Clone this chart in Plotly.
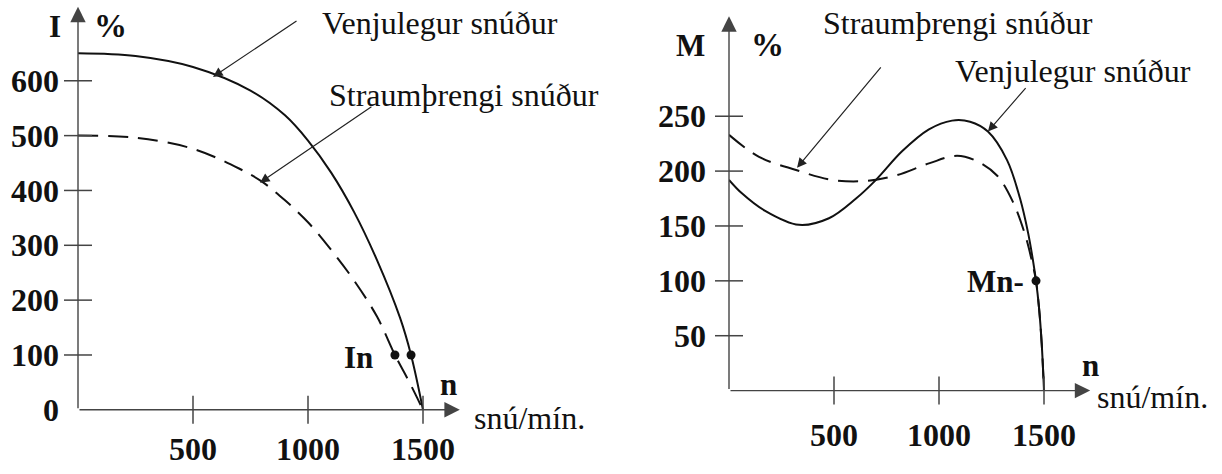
import plotly.graph_objects as go

# ---- data: current (left) and torque (right) vs speed, in % of rated ----
n_I_normal = [0, 250, 500, 750, 900, 1000, 1100, 1200, 1300, 1400, 1448, 1500]
I_normal = [650, 645, 625, 582, 537, 491, 433, 361, 273, 168, 100, 0]

n_I_limited = [0, 250, 500, 700, 800, 900, 1000, 1100, 1200, 1300, 1378, 1440, 1500]
I_limited = [500, 496, 476, 440, 416, 382, 342, 292, 236, 170, 100, 51, 0]

n_M_normal = [0, 60, 170, 333, 476, 605, 700, 824, 952, 1062, 1148, 1233, 1324, 1386, 1425, 1448, 1462, 1476,
              1489, 1500]
M_normal = [192, 180, 164, 151, 157, 175, 192, 218, 238, 246, 245, 236, 210, 175, 143, 118, 100, 76, 43, 0]

n_M_limited = [0, 143, 319, 490, 652, 795, 952, 1086, 1181, 1276, 1352, 1410, 1440, 1462, 1476, 1489, 1500]
M_limited = [233, 213, 201, 192, 191, 196, 207, 214, 209, 196, 172, 142, 120, 100, 76, 43, 0]

# rated operating points
rated_I_n = [1378, 1448]
rated_I = [100, 100]
rated_M_n = [1462]
rated_M = [100]

x_ticks = [500, 1000, 1500]
I_ticks = [0, 100, 200, 300, 400, 500, 600]
M_ticks = [50, 100, 150, 200, 250]

label_normal = "Venjulegur snúður"
label_limited = "Straumþrengi snúður"
unit_speed = "snú/mín."

W, H = 1222, 474
SERIF = "Liberation Serif, Times New Roman, Tinos, DejaVu Serif, serif"
INK = "#111111"
AXIS = "#444444"


def fx(p):
    return p / W


def fy(p):
    return 1 - p / H


fig = go.Figure()

curve = dict(mode="lines", line_shape="spline", hoverinfo="skip", showlegend=False)
fig.add_trace(go.Scatter(x=n_I_normal, y=I_normal, line=dict(color=INK, width=2, smoothing=1.0),
                         xaxis="x", yaxis="y", **curve))
fig.add_trace(go.Scatter(x=n_I_limited, y=I_limited, line=dict(color=INK, width=2, dash="20px,10px", smoothing=1.0),
                         xaxis="x", yaxis="y", **curve))
fig.add_trace(go.Scatter(x=n_M_normal, y=M_normal, line=dict(color=INK, width=2, smoothing=1.0),
                         xaxis="x2", yaxis="y2", **curve))
fig.add_trace(go.Scatter(x=n_M_limited, y=M_limited, line=dict(color=INK, width=2, dash="20px,10px", smoothing=1.0),
                         xaxis="x2", yaxis="y2", **curve))

dots = dict(mode="markers", marker=dict(color=INK, size=9), hoverinfo="skip", showlegend=False)
fig.add_trace(go.Scatter(x=rated_I_n, y=rated_I, xaxis="x", yaxis="y", **dots))
fig.add_trace(go.Scatter(x=rated_M_n, y=rated_M, xaxis="x2", yaxis="y2", **dots))

# crossing tick marks on both axes
tick = dict(mode="markers", hoverinfo="skip", showlegend=False, cliponaxis=False)
tick_marker_x = dict(symbol="line-ns", size=20, line=dict(color=AXIS, width=1.5))
tick_marker_y = dict(symbol="line-ew", size=20, line=dict(color=AXIS, width=1.5))
fig.add_trace(go.Scatter(x=x_ticks, y=[0] * len(x_ticks), marker=tick_marker_x, xaxis="x", yaxis="y", **tick))
fig.add_trace(go.Scatter(x=[0] * (len(I_ticks) - 1), y=I_ticks[1:], marker=tick_marker_y, xaxis="x", yaxis="y", **tick))
fig.add_trace(go.Scatter(x=x_ticks, y=[0] * len(x_ticks), marker=tick_marker_x, xaxis="x2", yaxis="y2", **tick))
fig.add_trace(go.Scatter(x=[0] * len(M_ticks), y=M_ticks, marker=tick_marker_y, xaxis="x2", yaxis="y2", **tick))

tickfont = dict(family=SERIF, size=32, color=INK, weight="bold")
common_axis = dict(showgrid=False, zeroline=False, showline=False, ticks="", tickfont=tickfont, fixedrange=True)

fig.update_layout(
    width=W, height=H,
    margin=dict(l=0, r=0, t=0, b=0, pad=0),
    paper_bgcolor="white", plot_bgcolor="white",
    font=dict(family=SERIF),
    xaxis=dict(domain=[fx(78), fx(459.8)], range=[0, 1660], tickvals=x_ticks,
               ticklabelstandoff=17, anchor="y", **common_axis),
    yaxis=dict(domain=[fy(426), fy(7)], range=[0, 735], tickvals=I_ticks,
               ticklabelstandoff=18, anchor="x", **common_axis),
    xaxis2=dict(domain=[fx(729), fx(1090.2)], range=[0, 1720], tickvals=x_ticks,
                ticklabelstandoff=22, anchor="y2", **common_axis),
    yaxis2=dict(domain=[fy(406), fy(17)], range=[0, 341], tickvals=M_ticks,
                ticklabelstandoff=22, anchor="x2", **common_axis),
)

ann = []

# axis arrows
for xr, yr, xmax, ymax in (("x", "y", 1660, 735), ("x2", "y2", 1720, 341)):
    ann.append(dict(x=xmax, y=0, ax=0, ay=0, xref=xr, yref=yr, axref=xr, ayref=yr, text="",
                    showarrow=True, arrowhead=2, arrowsize=2.2, arrowwidth=1.4, arrowcolor=AXIS, standoff=0))
    ann.append(dict(x=0, y=ymax, ax=0, ay=0, xref=xr, yref=yr, axref=xr, ayref=yr, text="",
                    showarrow=True, arrowhead=2, arrowsize=2.2, arrowwidth=1.4, arrowcolor=AXIS, standoff=0))

# pointer arrows to curves
pointers = [
    ("x", "y", 587, 607, 85, -57),
    ("x", "y", 791, 414, 113, -77),
    ("x2", "y2", 324, 203, 85, -102),
    ("x2", "y2", 1233, 236, 39, -45),
]
for xr, yr, xv, yv, dx, dy in pointers:
    ann.append(dict(x=xv, y=yv, xref=xr, yref=yr, ax=dx, ay=dy, text="", showarrow=True,
                    arrowhead=2, arrowsize=1.6, arrowwidth=1.2, arrowcolor="#222222", standoff=0))


def text(px, py, s, size=32, bold=False, xanchor="center"):
    ann.append(dict(x=fx(px), y=fy(py), xref="paper", yref="paper", text=s, showarrow=False,
                    xanchor=xanchor, yanchor="middle",
                    font=dict(family=SERIF, size=size, color=INK, weight="bold" if bold else "normal")))


# left panel texts
text(55, 28, "I", 31, True)
text(110, 27, "%", 33, True)
text(440, 24, label_normal)
text(464, 99, label_limited)
text(358, 372, "In", 31, True)
text(448, 400, "n", 31, True)
text(529, 435, unit_speed)

# right panel texts
text(691, 47, "M", 31, True)
text(767, 47, "%", 33, True)
text(958, 24, label_limited)
text(1073, 74, label_normal)
text(995, 293, "Mn-", 31, True)
text(1090, 380, "n", 31, True)
text(1152, 413, unit_speed)

fig.update_layout(annotations=ann)

fig.write_html("out.html")
